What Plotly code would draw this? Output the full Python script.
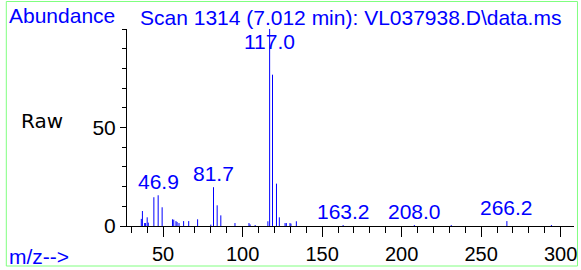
import plotly.graph_objects as go

# ---- data ----
mz = [36.3, 37.0, 38.4, 39.0, 40.0, 40.7, 44.2, 46.9, 49.4, 55.9, 56.7, 58.1,
      58.8, 60.0, 62.9, 66.1, 71.7, 80.0, 81.7, 84.0, 86.3, 95.2, 104.0, 104.7,
      107.9, 115.9, 117.0, 118.8, 121.3, 123.1, 126.7, 127.5, 129.8, 130.4,
      133.8, 163.2, 208.0, 231.2, 266.2, 294.2]
abundance = [3.6, 7.6, 1.5, 1.5, 4.4, 1.7, 14.6, 15.6, 9.5, 3.4, 3.2, 2.5,
             2.0, 1.5, 2.5, 2.5, 3.4, 0.7, 19.7, 10.5, 5.4, 1.5, 1.5, 0.8,
             0.5, 2.4, 100.0, 76.8, 21.5, 4.4, 1.5, 1.5, 1.5, 1.2,
             2.4, 0.5, 0.5, 0.5, 2.5, 0.5]
label_mz = [46.9, 81.7, 117.0, 163.2, 208.0, 266.2]
x_ticks = [50, 100, 150, 200, 250, 300]
y_ticks = [0, 50]
title_text = "Scan 1314 (7.012 min): VL037938.D\\data.ms"

# ---- layout geometry ----
W, H = 581, 270
L, R, T, B = 127, 4, 29, 44
PW, PH = W - L - R, H - T - B
XR = [27.3, 308.4]
YR = [0, 100]
BLUE = "#0000ff"
FONT = "Liberation Sans, Arial, sans-serif"


def px_x(px):
    return (px - L) / PW


def px_y(py):
    return 1 - (py - T) / PH


# stick spectrum as vertical line segments
xs, ys = [], []
for m, a in zip(mz, abundance):
    xs += [m, m, None]
    ys += [0, a, None]

fig = go.Figure()
fig.add_trace(go.Scatter(x=xs, y=ys, mode="lines",
                         line=dict(color=BLUE, width=1),
                         hoverinfo="skip", showlegend=False))

annotations = []
for lm in label_mz:
    h = abundance[mz.index(lm)]
    hpx = h / (YR[1] - YR[0]) * PH
    if hpx + 13 + 12 > PH:
        annotations.append(dict(x=lm, y=YR[1], xref="x", yref="y",
                                text=f"{lm:.1f}", showarrow=False,
                                xanchor="center", yanchor="top", yshift=1,
                                font=dict(family=FONT, size=21, color=BLUE)))
    else:
        annotations.append(dict(x=lm, y=h, xref="x", yref="y",
                                text=f"{lm:.1f}", showarrow=False,
                                xanchor="center", yanchor="middle", yshift=14,
                                font=dict(family=FONT, size=21, color=BLUE)))

annotations += [
    dict(x=px_x(6), y=px_y(15), xref="paper", yref="paper", text="Abundance",
         showarrow=False, xanchor="left", yanchor="middle",
         font=dict(family=FONT, size=21, color=BLUE)),
    dict(x=px_x(138), y=px_y(18), xref="paper", yref="paper", text=title_text,
         showarrow=False, xanchor="left", yanchor="middle",
         font=dict(family=FONT, size=21, color=BLUE)),
    dict(x=px_x(18), y=px_y(121), xref="paper", yref="paper", text="Raw",
         showarrow=False, xanchor="left", yanchor="middle",
         font=dict(family="DejaVu Sans", size=20, color="black")),
    dict(x=px_x(6), y=px_y(256), xref="paper", yref="paper", text="m/z-->",
         showarrow=False, xanchor="left", yanchor="middle",
         font=dict(family=FONT, size=21, color=BLUE)),
]

shapes = [dict(type="rect", xref="paper", yref="paper",
               x0=px_x(5.5), x1=px_x(580.5), y0=px_y(266), y1=px_y(1.5),
               line=dict(color="#80ff80", width=1), fillcolor="rgba(0,0,0,0)",
               layer="below")]

fig.update_layout(
    width=W, height=H,
    margin=dict(l=L, r=R, t=T, b=B, pad=0),
    paper_bgcolor="white", plot_bgcolor="white",
    annotations=annotations, shapes=shapes,
    showlegend=False,
    xaxis=dict(range=XR, showgrid=False, zeroline=False,
               showline=True, linecolor="black", linewidth=1,
               tickmode="array", tickvals=x_ticks,
               ticktext=[str(v) for v in x_ticks],
               ticks="outside", ticklen=10, tickcolor="black", tickwidth=1,
               minor=dict(dtick=10, tick0=0, ticks="outside", ticklen=6,
                          tickcolor="black", tickwidth=1),
               tickfont=dict(family=FONT, size=20, color="black")),
    yaxis=dict(range=YR, showgrid=False, zeroline=False,
               showline=True, linecolor="black", linewidth=1,
               tickmode="array", tickvals=y_ticks,
               ticktext=[str(v) for v in y_ticks],
               ticks="outside", ticklen=6, tickcolor="black", tickwidth=1,
               minor=dict(dtick=10, tick0=0, ticks="outside", ticklen=4,
                          tickcolor="black", tickwidth=1),
               tickfont=dict(family=FONT, size=21, color="black")),
)

fig.write_html("out.html",
               config={"displayModeBar": False, "staticPlot": True},
               post_script="document.body.style.margin='0';"
                           "document.body.style.overflow='hidden';")
